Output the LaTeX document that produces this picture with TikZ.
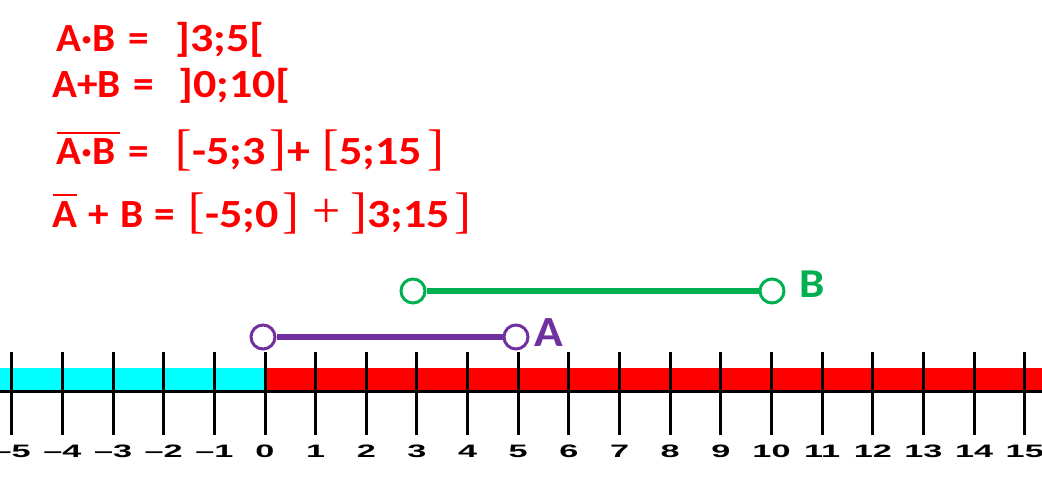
\documentclass[tikz,border=0pt]{standalone}
\usepackage{fontspec}
\setmainfont{Carlito}
\newfontfamily\seriff{Liberation Serif}
\newfontfamily\arialf{Liberation Sans}
\definecolor{setA}{HTML}{7030A0}
\definecolor{setB}{HTML}{00B050}
\definecolor{barcyan}{HTML}{00FFFF}
\definecolor{barred}{HTML}{FF0000}
\begin{document}
\begin{tikzpicture}[x=1pt,y=-1pt,
  txt/.style={anchor=base west,inner sep=0pt,text=red,xscale=1.15,font=\fontsize{40}{40}\selectfont\bfseries},
  txtl/.style={anchor=base west,inner sep=0pt,text=red,xscale=1.03,font=\fontsize{40}{40}\selectfont\bfseries},
  brk/.style={anchor=base west,inner sep=0pt,text=red,font=\fontsize{50}{50}\selectfont\seriff},
  ovl/.style={red,line width=2pt},
  tickline/.style={black,line width=3pt},
  ticklabel/.style={inner sep=0pt,anchor=base,font=\fontsize{18}{18}\selectfont\arialf\bfseries,xscale=1.9},
  endpt/.style={circle,minimum size=24pt,inner sep=0pt,line width=3pt,fill=white},
  seg/.style={line width=6pt},
  setlabel/.style={anchor=base west,inner sep=0pt,xscale=1.1,font=\bfseries}]
\useasboundingbox (0,0) rectangle (1042,478);
% ---- formulas
% line 1
\node[txtl] (l1a) at (56,52) {A·B};
\node[txtl] (l1e) at (128,52) {=};
\node[txt] (l1r) at (175,52) {]3;5[};
% line 2
\node[txtl] (l2a) at (52,98) {A+B};
\node[txtl] (l2e) at (133,98) {=};
\node[txt] (l2r) at (178,98) {]0;10[};
% line 3
\node[txtl] (l3a) at (56,165) {A·B};
\draw[ovl] (57,133) -- (120,133);
\node[txtl] (l3e) at (128,165) {=};
\node[brk] (l3b1) at (175,165) {[};
\node[txt] (l3n1) at (192,165) {-5;3};
\node[brk] (l3b2) at (269,165) {]};
\node[txt] (l3p) at (287,165) {+};
\node[brk] (l3b3) at (322,165) {[};
\node[txt] (l3n2) at (339,165) {5;15};
\node[brk] (l3b4) at (427,165) {]};
% line 4
\node[txtl] (l4a) at (52,228) {A};
\draw[ovl] (53,195) -- (77,195);
\node[txtl] (l4p1) at (88,228) {+};
\node[txtl] (l4b) at (120,228) {B};
\node[txtl] (l4e) at (154,228) {=};
\node[brk] (l4b1) at (188,228) {[};
\node[txt] (l4n1) at (205,228) {-5;0};
\node[brk] (l4b2) at (282,228) {]};
\node[brk] (l4p2) at (312,228) {+};
\node[brk] (l4b3) at (350,228) {]};
\node[txt] (l4n2) at (367,228) {3;15};
\node[brk] (l4b4) at (454,228) {]};
% ---- number line
\fill[barcyan] (0,368) rectangle (265,390);
\fill[barred] (265,368) rectangle (1042,390);
\draw[black,line width=3pt] (0,392) -- (1042,392);
\foreach \n in {-5,...,15}{
  \pgfmathsetmacro{\xx}{265+50.65*\n}
  \draw[tickline] (\xx,352) -- (\xx,435);
  \ifnum\n<0
    \node[ticklabel] (lab\n) at (\xx,457) {–\the\numexpr-\n\relax};
  \else
    \node[ticklabel] (lab\n) at (\xx,457) {\n};
  \fi
}
% ---- set B
\node[endpt,draw=setB] (b0) at (413,291) {};
\node[endpt,draw=setB] (b1) at (772,291) {};
\draw[seg,setB] (b0.east) -- (b1.west);
\node[setlabel,text=setB,font=\fontsize{41}{41}\selectfont\bfseries] (blab) at (799,298) {B};
% ---- set A
\node[endpt,draw=setA] (a0) at (263,337) {};
\node[endpt,draw=setA] (a1) at (516,337) {};
\draw[seg,setA] (a0.east) -- (a1.west);
\node[setlabel,text=setA,font=\fontsize{43}{43}\selectfont\bfseries] (alab) at (534,347) {A};
\end{tikzpicture}
\end{document}
